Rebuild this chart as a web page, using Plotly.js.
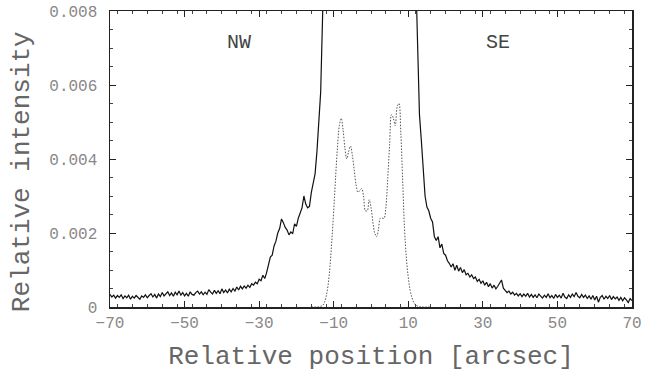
<!DOCTYPE html>
<html>
<head>
<meta charset="utf-8">
<script src="https://cdn.plot.ly/plotly-3.0.1.min.js"></script>
<style>html,body{margin:0;padding:0;background:#fff;}#chart{width:654px;height:376px;}</style>
</head>
<body>
<div id="chart"></div>
<script>
// Solid profile (total intensity), left wing
const leftWingX = [-70,-69.5,-69,-68.5,-68,-67.5,-67,-66.5,-66,-65.5,-65,-64.5,-64,-63.5,-63,-62.5,-62,-61.5,-61,-60.5,-60,-59.5,-59,-58.5,-58,-57.5,-57,-56.5,-56,-55.5,-55,-54.5,-54,-53.5,-53,-52.5,-52,-51.5,-51,-50.5,-50,-49.5,-49,-48.5,-48,-47.5,-47,-46.5,-46,-45.5,-45,-44.5,-44,-43.5,-43,-42.5,-42,-41.5,-41,-40.5,-40,-39.5,-39,-38.5,-38,-37.5,-37,-36.5,-36,-35.5,-35,-34.5,-34,-33.5,-33,-32.5,-32,-31.5,-31,-30.5,-30,-29.5,-29,-28.5,-28,-27.5,-27,-26.5,-26,-25.5,-25,-24.5,-24,-23.5,-23,-22.5,-22,-21.5,-21,-20.5,-20,-19.5,-19,-18.5,-18,-17.5,-17,-16.5,-16,-15.5,-15,-14.5,-14,-13.5,-13,-12.5,-12,-11];
const leftWingY = [0.00034,0.00027,0.00032,0.00024,0.00031,0.00026,0.00033,0.00023,0.00030,0.00025,0.00032,0.00021,0.00029,0.00024,0.00031,0.00025,0.00021,0.00030,0.00026,0.00033,0.00025,0.00031,0.00036,0.00027,0.00034,0.00024,0.00035,0.00028,0.00039,0.00030,0.00037,0.00041,0.00031,0.00038,0.00029,0.00040,0.00033,0.00043,0.00032,0.00039,0.00030,0.00037,0.00029,0.00041,0.00034,0.00032,0.00039,0.00043,0.00035,0.00041,0.00033,0.00040,0.00034,0.00047,0.00040,0.00035,0.00045,0.00037,0.00044,0.00036,0.00049,0.00039,0.00046,0.00038,0.00048,0.00041,0.00050,0.00043,0.00054,0.00046,0.00056,0.00049,0.00057,0.00051,0.00059,0.00053,0.00063,0.00059,0.00067,0.00063,0.00075,0.00071,0.00086,0.00077,0.00093,0.00115,0.00135,0.00140,0.00165,0.00178,0.00200,0.00212,0.00238,0.00228,0.00215,0.00208,0.00195,0.00203,0.00198,0.00225,0.00218,0.00240,0.00255,0.00268,0.00300,0.00278,0.00268,0.00272,0.00310,0.00340,0.00360,0.00420,0.00490,0.00580,0.00780,0.0105,0.014,0.022];
// core (runs off the top of the plot)
const coreX = [-8, 0, 8];
const coreY = [0.04, 0.06, 0.04];
// right wing
const rightWingX = [11,11.5,12,12.5,13,13.5,14,14.5,15,15.5,16,16.5,17,17.5,18,18.5,19,19.5,20,20.5,21,21.5,22,22.5,23,23.5,24,24.5,25,25.5,26,26.5,27,27.5,28,28.5,29,29.5,30,30.5,31,31.5,32,32.5,33,33.5,34,34.5,35,35.5,36,36.5,37,37.5,38,38.5,39,39.5,40,40.5,41,41.5,42,42.5,43,43.5,44,44.5,45,45.5,46,46.5,47,47.5,48,48.5,49,49.5,50,50.5,51,51.5,52,52.5,53,53.5,54,54.5,55,55.5,56,56.5,57,57.5,58,58.5,59,59.5,60,60.5,61,61.5,62,62.5,63,63.5,64,64.5,65,65.5,66,66.5,67,67.5,68,68.5,69,69.5,70];
const rightWingY = [0.020,0.013,0.0090,0.0068,0.0052,0.0045,0.0036,0.0030,0.0027,0.0026,0.0024,0.0023,0.0019,0.0018,0.0019,0.0016,0.0017,0.00145,0.00140,0.00125,0.00118,0.00108,0.00117,0.00099,0.00113,0.00097,0.00107,0.00093,0.00101,0.00087,0.00091,0.00081,0.00087,0.00077,0.00081,0.00069,0.00075,0.00064,0.00071,0.00059,0.00067,0.00055,0.00063,0.00051,0.00059,0.00049,0.00056,0.00066,0.00073,0.00051,0.00045,0.00039,0.00043,0.00035,0.00040,0.00032,0.00037,0.00030,0.00036,0.00028,0.00035,0.00029,0.00037,0.00027,0.00034,0.00026,0.00033,0.00025,0.00035,0.00028,0.00024,0.00032,0.00026,0.00036,0.00025,0.00031,0.00023,0.00034,0.00026,0.00032,0.00024,0.00037,0.00027,0.00023,0.00033,0.00026,0.00035,0.00028,0.00039,0.00029,0.00025,0.00034,0.00026,0.00032,0.00023,0.00030,0.00021,0.00031,0.00019,0.00029,0.00013,0.00026,0.00031,0.00021,0.00029,0.00023,0.00031,0.00020,0.00028,0.00022,0.00027,0.00018,0.00026,0.00017,0.00025,0.00019,0.00012,0.00023,0.00017];
// Dotted profile (core / PSF)
const coreProfX = [-16,-14,-13,-12.5,-12,-11.5,-11,-10.5,-10,-9.5,-9,-8.5,-8,-7.5,-7,-6.5,-6,-5.5,-5,-4.5,-4,-3.5,-3,-2.5,-2,-1.5,-1,-0.5,0,0.5,1,1.5,2,2.5,3,3.5,4,4.5,5,5.5,6,6.5,7,7.5,8,8.5,9,9.5,10,10.5,11,11.5,12,13,14,16];
const coreProfY = [0,0.00001,0.00004,0.00012,0.0003,0.0006,0.0011,0.0018,0.0026,0.0035,0.0043,0.0049,0.0051,0.0048,0.0043,0.0040,0.0042,0.00435,0.0041,0.0037,0.0033,0.0031,0.00315,0.0032,0.0030,0.0026,0.0026,0.0029,0.0027,0.0023,0.0020,0.0019,0.0021,0.0024,0.0024,0.0024,0.0027,0.0035,0.0044,0.0052,0.0051,0.0049,0.0054,0.0055,0.0047,0.0034,0.0021,0.0013,0.0008,0.00045,0.00025,0.00012,0.00005,0.00001,0,0];
// in-plot labels
const labelText = ["NW", "SE"];
const labelX = [-35.4, 34.0];
const labelY = [0.00714, 0.00714];
// axis titles
const xTitle = "Relative position [arcsec]";
const yTitle = "Relative intensity";

const solidX = leftWingX.concat(coreX, rightWingX);
const solidY = leftWingY.concat(coreY, rightWingY);

const FONT = '"Liberation Mono", "Courier New", monospace';

const traces = [
  {x: solidX, y: solidY, type: 'scatter', mode: 'lines',
   line: {color: '#111', width: 1.2}, hoverinfo: 'skip'},
  {x: coreProfX, y: coreProfY, type: 'scatter', mode: 'lines',
   line: {color: '#555', width: 1, dash: '1.5px,1.5px', shape: 'spline'}, hoverinfo: 'skip'}
];

const annotations = labelText.map((t, i) => ({
  x: labelX[i], y: labelY[i], xref: 'x', yref: 'y', text: t, showarrow: false,
  font: {family: FONT, size: 20, color: '#444'}
}));
annotations.push({
  x: -0.1686, y: 0.459, xref: 'paper', yref: 'paper', text: yTitle, showarrow: false,
  textangle: -90, xanchor: 'center', yanchor: 'middle',
  font: {family: FONT, size: 26, color: '#666'}
});

const layout = {
  width: 654, height: 376,
  margin: {l: 110, r: 22, t: 11, b: 69},
  paper_bgcolor: '#fff', plot_bgcolor: '#fff',
  showlegend: false,
  font: {family: FONT, color: '#666'},
  xaxis: {
    range: [-70, 70], tick0: -70, dtick: 20,
    showgrid: false, zeroline: false,
    showline: true, linecolor: '#222', linewidth: 1.5, mirror: 'allticks',
    ticks: 'inside', ticklen: 6, tickcolor: '#222', tickwidth: 1,
    minor: {dtick: 4, ticks: 'inside', ticklen: 3, tickcolor: '#444', showgrid: false},
    tickfont: {family: FONT, size: 16, color: '#888'},
    title: {text: xTitle, font: {family: FONT, size: 26, color: '#666'}, standoff: 14}
  },
  yaxis: {
    range: [0, 0.008], tick0: 0, dtick: 0.002,
    showgrid: false, zeroline: false,
    showline: true, linecolor: '#222', linewidth: 1.5, mirror: 'allticks',
    ticks: 'inside', ticklen: 6, tickcolor: '#222', tickwidth: 1,
    minor: {dtick: 0.0005, ticks: 'inside', ticklen: 3, tickcolor: '#444', showgrid: false},
    tickfont: {family: FONT, size: 16, color: '#888'},
    ticklabelstandoff: 8
  },
  annotations: annotations
};

Plotly.newPlot('chart', traces, layout, {displayModeBar: false, staticPlot: true});
</script>
</body>
</html>
